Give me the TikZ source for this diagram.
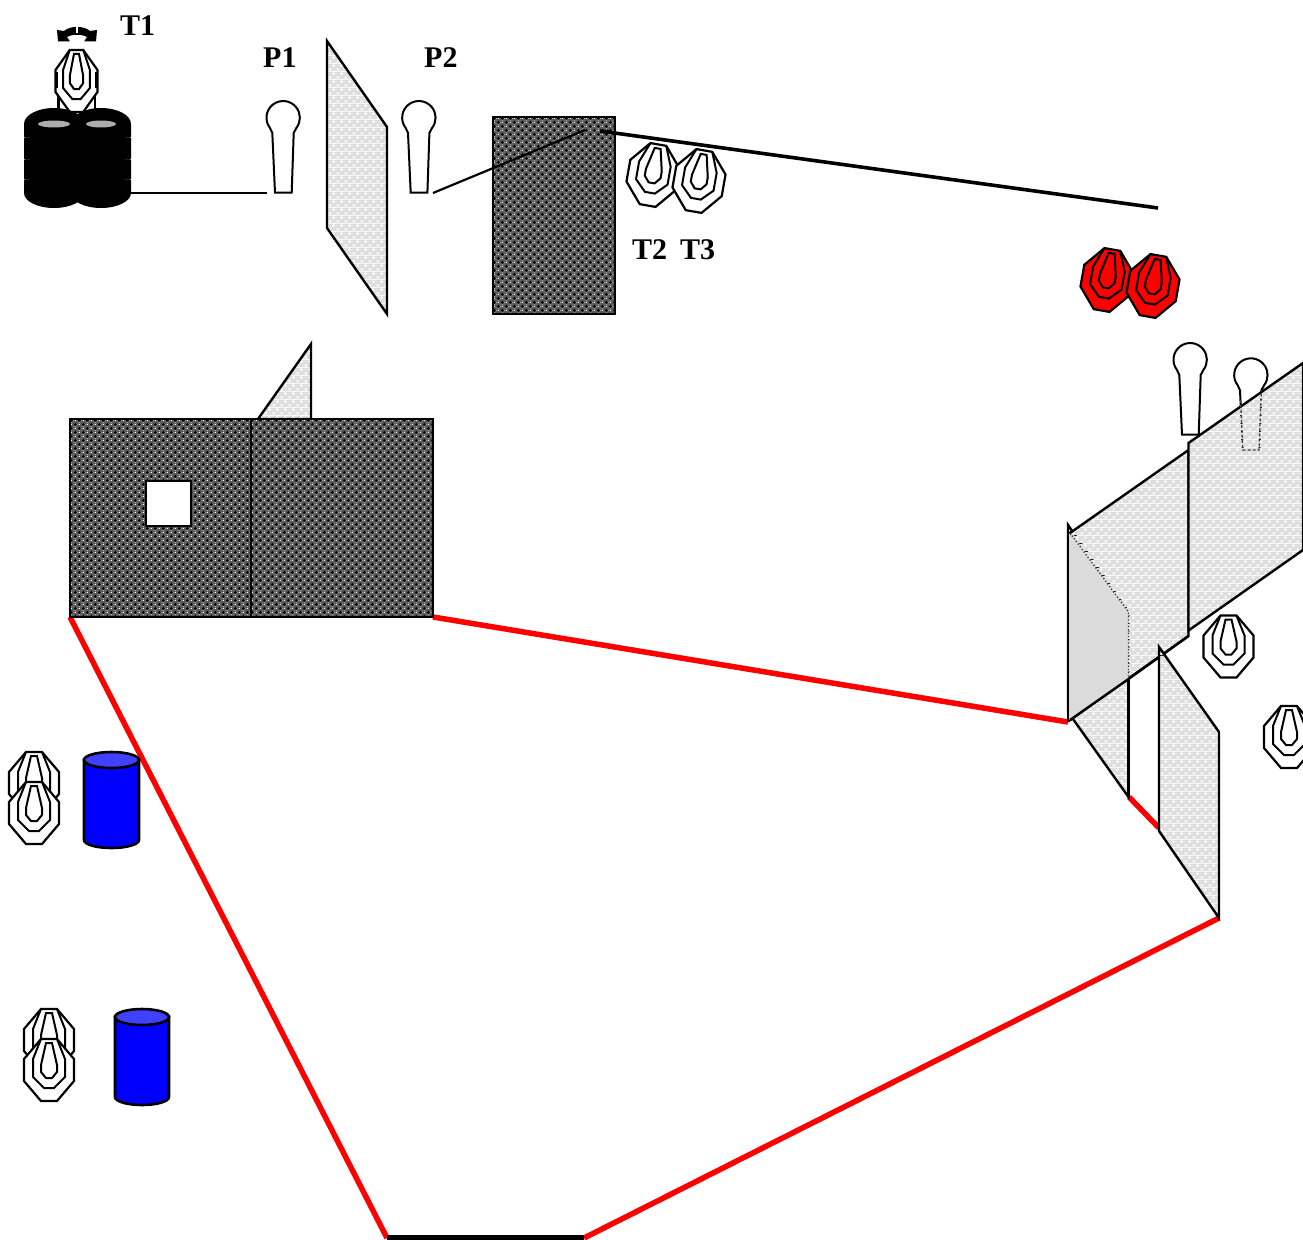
\documentclass[tikz,border=0pt]{standalone}
\usepackage{fontspec}
\setmainfont{Liberation Serif}
\usetikzlibrary{patterns}
\newcommand\tilerect[4]{\pgfpathrectangle{\pgfqpoint{#1pt}{#2pt}}{\pgfqpoint{#3pt}{#4pt}}}
\pgfdeclarepatterninherentlycolored{lightpat}{\pgfqpoint{0pt}{0pt}}{\pgfqpoint{8pt}{8pt}}{\pgfqpoint{8pt}{8pt}}{%
  \definecolor{pl}{gray}{0.87}\pgfsetfillcolor{pl}%
  \tilerect{0}{0}{8}{8}\pgfusepath{fill}%
  \pgfsetfillcolor{white}%
  \tilerect{0.5}{1.5}{3}{1}\tilerect{1.5}{0.5}{1}{3}%
  \tilerect{4.5}{5.5}{3}{1}\tilerect{5.5}{4.5}{1}{3}\pgfusepath{fill}%
}
\newcommand\tgtshape[1]{%
    \draw[line width=2.2pt,fill=#1] (-8,-31)--(8,-31)--(25,-11)--(25,11)--(8,31)--(-8,31)--(-25,11)--(-25,-11)--cycle;
    \draw[line width=2pt] (-8,-31)--(-16,-11)--(-16,7)--(-5,18)--(5,18)--(16,7)--(16,-11)--(8,-31);
    \draw[line width=2pt] (-3,-27)--(3,-27)--(8,-5)--(8,2)--(3,8)--(-3,8)--(-8,2)--(-8,-5)--cycle;
}
\makeatletter
\newcount\dfx \newcount\dfy \newcount\dfxs \newcount\dfys \newcount\dfxe \newcount\dfye
\def\dfrect#1#2#3#4{\the\numexpr\dfx+#1\relax\space\the\numexpr\dfy+#2\relax\space#3 #4 re }
\newcommand\dflayer[2]{%
  \pgfsys@invoke{#1}%
  \dfy=\dfys
  \loop\ifnum\dfy<\dfye
    {\gdef\dfacc{}\dfx=\dfxs
     \loop\ifnum\dfx<\dfxe
       \xdef\dfacc{\dfacc #2}\advance\dfx by 8
     \repeat}%
    \pgfsys@invoke{\dfacc f}%
    \advance\dfy by 8
  \repeat
}
\newcommand\darkfill[4]{%
  \dfxs=#1 \dfys=#2 \dfxe=#3 \dfye=#4
  \pgfsys@invoke{q 0.99626 0 0 -0.99626 0 0 cm #1 #2 \the\numexpr#3-#1\relax\space\the\numexpr#4-#2\relax\space re W n 0.36 g #1 #2 \the\numexpr#3-#1\relax\space\the\numexpr#4-#2\relax\space re f}%
  \dflayer{0 g}{\dfrect{0}{1}{3}{1}\dfrect{1}{0}{1}{3}\dfrect{4}{5}{3}{1}\dfrect{5}{4}{1}{3}}%
  \dflayer{1 g}{\dfrect{5}{1}{1}{1}\dfrect{1}{5}{1}{1}}%
  \dflayer{0.65 g}{\dfrect{3}{1}{1}{1}\dfrect{1}{3}{1}{1}\dfrect{7}{5}{1}{1}\dfrect{5}{7}{1}{1}}%
  \pgfsys@invoke{Q}%
  \draw[outl] (#1,#2) rectangle (#3,#4);
}
\makeatother
\tikzset{
  outl/.style={draw=black,line width=2.4pt},
  lightpanel/.style={outl,pattern=lightpat},
  redline/.style={draw={rgb,255:red,255;green,0;blue,0},line width=5.5pt},
  txt/.style={font=\fontsize{30}{30}\selectfont\bfseries,anchor=base west,inner sep=0pt},
  drumbody/.style={draw=black,line width=2.6pt,fill={rgb,255:red,0;green,0;blue,255}},
  drumtop/.style={draw=black,line width=2.6pt,fill={rgb,255:red,64;green,64;blue,255}},
  tgt/.pic={\tgtshape{white}},
  redtgt/.pic={\tgtshape{red}},
  popper/.pic={
    \draw[line width=2pt,fill=white] (-10.7,15) -- (-13,10) arc[start angle=142,end angle=398,radius=16.7] -- (10.7,15) -- (8.7,74.7) -- (-8,74.7) -- cycle;
  },
}
\begin{document}
\begin{tikzpicture}[x=1pt,y=-1pt]
\useasboundingbox (0,0) rectangle (1303,1239);
\clip (0,0) rectangle (1303,1239);
\fill[white] (0,0) rectangle (1303,1239);

% red boundary
\draw[redline] (70,617) -- (387,1238);
\draw[redline] (433,617) -- (1068,722);
\draw[redline] (1129,797) -- (1159,828);
\draw[redline] (1219,918) -- (584,1238);
\draw[line width=5pt] (387,1237) -- (584,1237);

% T1 on tyres
\draw[line width=2.4pt] (58.5,70) -- (58.5,112);
\draw[line width=2.4pt] (95,70) -- (95,112);
\pic[xscale=.84] at (76.5,81) {tgt};
\draw[line width=2.4pt] (57,72)--(57,88) (96.5,72)--(96.5,88);
\fill[black] (54,124) ellipse [x radius=30,y radius=16];
\fill[black] (101,124) ellipse [x radius=30,y radius=16];
\fill[black] (54,193) ellipse [x radius=30,y radius=15];
\fill[black] (101,193) ellipse [x radius=30,y radius=15];
\foreach \a/\b in {124/137.6,137.4/159.6,159.4/179.6,179.4/193}{
  \fill[black,rounded corners=1pt] (24,\a) rectangle (131,\b);
}
\fill[black] (30,130) rectangle (125,188);
\fill[gray!65] (54,124) ellipse [x radius=16,y radius=3.5];
\fill[gray!65] (101,124) ellipse [x radius=15,y radius=3.5];
% rotating arrow
\fill[black] (57,30) -- (64,31) .. controls (70,25.5) and (84,25.5) .. (90,31) -- (97,30) -- (96,41.5) -- (84,41.5) -- (87,37) .. controls (82,34) and (72,34) .. (67,37) -- (70,41.5) -- (58,41.5) -- cycle;
\draw[white,line width=1.2pt] (77,26.5) -- (77,33);

% top row
\draw[line width=2.2pt] (131,193) -- (267,193);
\pic at (283,118) {popper};
\draw[lightpanel] (327,41) -- (387,127) -- (387,314) -- (327,228) -- cycle;
\pic at (418.7,118) {popper};
\darkfill{493}{117}{615}{314}
\draw[line width=2.2pt] (433,193) -- (585,130);
\draw[line width=3.6pt] (600,131) -- (1158,208);
\pic[rotate=-10] at (653,175) {tgt};
\pic[rotate=-10] at (699,181) {tgt};
\pic[rotate=-10] at (1107,280) {redtgt};
\pic[rotate=-10] at (1153,286) {redtgt};

% left wall
\draw[lightpanel] (311,344) -- (258,419) -- (311,419) -- cycle;
\darkfill{70}{419}{251}{617}
\darkfill{251}{419}{433}{617}
\draw[outl,fill=white] (146,481) rectangle (191,526);

% right panels
\pic at (1190,360) {popper};
\pic at (1250.7,375.3) {popper};
\draw[lightpanel] (1068,525) -- (1128.5,612) -- (1128.5,797) -- (1068,712) -- cycle;
\draw[lightpanel] (1070,533) -- (1188.5,450) -- (1188.5,636) -- (1070,720) -- cycle;
\draw[lightpanel] (1188.5,443) -- (1303,363) -- (1303,550) -- (1188.5,630.5) -- cycle;
\fill[gray!28] (1069,533) -- (1128.5,612) -- (1128.5,679) -- (1069,720) -- cycle;
\draw[line width=1.3pt,dotted,gray!40!black] (1070,533) -- (1128.5,612) -- (1128.5,679);
\draw[line width=1.3pt,densely dashed,gray!50!black] (1240.6,400) -- (1242.7,450) -- (1259,450) -- (1261.4,390);
\draw[line width=2.4pt] (1068,525) -- (1068,722);
\draw[line width=2.4pt] (1070,720) -- (1128.5,679) -- (1188.5,636);
\draw[line width=2.4pt] (1128.5,679) -- (1128.5,797);
\draw[lightpanel] (1159,647) -- (1219,732) -- (1219,918) -- (1159,831) -- cycle;
\pic at (1228.5,646.5) {tgt};
\pic at (1289,737) {tgt};

% left targets and drums
\pic at (34,783) {tgt};
\pic at (34,813) {tgt};
\draw[drumbody] (84,760) -- (84,840) arc[start angle=180,end angle=0,x radius=27.5,y radius=8] -- (139,760) -- cycle;
\draw[drumtop] (111.5,760) ellipse [x radius=27.5,y radius=8];
\pic at (49,1040) {tgt};
\pic at (49,1070) {tgt};
\draw[drumbody] (115,1017) -- (115,1097) arc[start angle=180,end angle=0,x radius=27,y radius=8] -- (169,1017) -- cycle;
\draw[drumtop] (142,1017) ellipse [x radius=27,y radius=8];

% labels
\node[txt] (t1) at (120,35.5) {T1};
\node[txt] (p1) at (263,67.5) {P1};
\node[txt] (p2) at (424,67.5) {P2};
\node[txt] (t2) at (632,259.5) {T2};
\node[txt] (t3) at (680,259.5) {T3};
\end{tikzpicture}
\end{document}
